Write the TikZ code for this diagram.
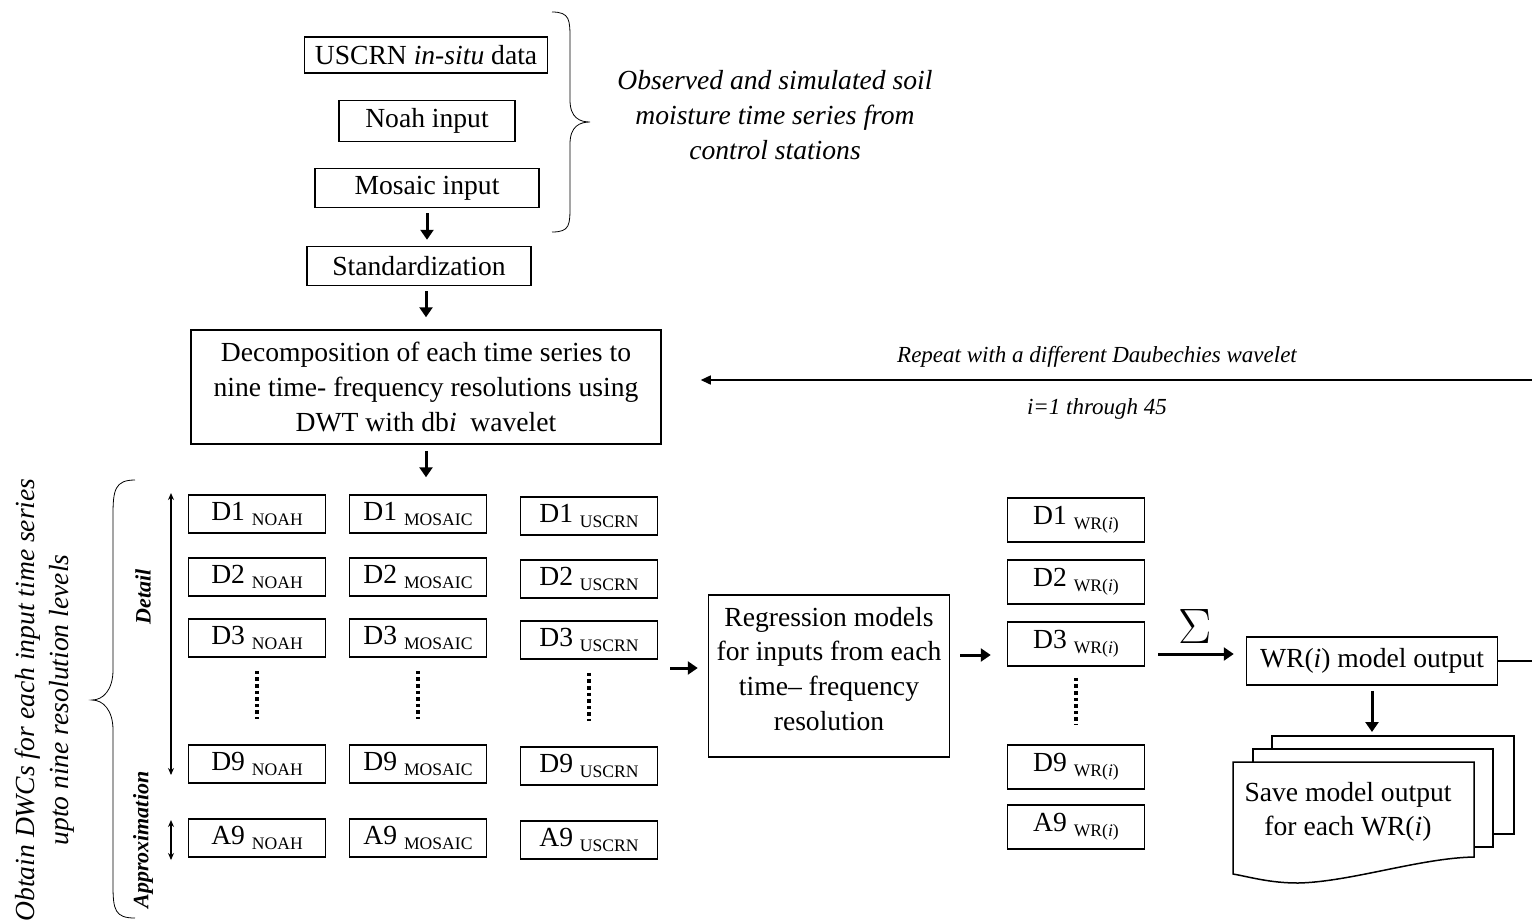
\documentclass[tikz,border=0pt]{standalone}
\usepackage{fontspec}
\setmainfont{Liberation Serif}
\usetikzlibrary{arrows.meta,positioning}

\def\pxl{0.5pt}
\newcommand{\wsub}[1]{ {\fontsize{8.8}{9}\selectfont\raisebox{-2.5pt}{#1}}}

\tikzset{
  box/.style={draw,line width=0.75pt,inner sep=0pt},
  coef/.style={box,minimum width={137*\pxl},minimum height={38*\pxl}},
  fat/.style={line width=1.5pt,-{Triangle[length=5pt,width=6.5pt]}},
  dotline/.style={line width=1.8pt,dash pattern=on 1.8pt off 1.5pt},
  dbl/.style={line width=0.6pt,{Stealth[length=3.5pt,width=3pt]}-{Stealth[length=3.5pt,width=3pt]}},
  note/.style={font=\fontsize{13.8}{17.5}\selectfont\itshape,align=center},
  small/.style={font=\fontsize{11.5}{13}\selectfont\itshape}
}

\begin{document}
\begin{tikzpicture}[x=\pxl,y=-\pxl,font=\fontsize{13.8}{17.3}\selectfont]
\useasboundingbox (0,0) rectangle (1532,923);

% inputs
\node[box,minimum width={243*\pxl},minimum height={36*\pxl}] (uscrn) at (426,55) {USCRN \textit{in-situ} data};
\node[box,minimum width={176*\pxl},minimum height={41*\pxl}] (noah) at (427,121) {Noah input};
\node[box,minimum width={224*\pxl},minimum height={39*\pxl}] (mosaic) at (427,188) {Mosaic input};
\node[box,minimum width={224*\pxl},minimum height={39*\pxl}] (std) at (419,266) {Standardization};
\node[box,minimum width={470*\pxl},minimum height={114*\pxl},align=center] (dec) at (426,387)
  {Decomposition of each time series to\\ nine time- frequency resolutions using\\ DWT with db\textit{i} \ wavelet};

\draw (552,12) .. controls (570,12) and (570,20) .. (570,40) -- (570,100)
  .. controls (570,118) and (580,122) .. (590,122) .. controls (580,122) and (570,126) .. (570,144)
  -- (570,205) .. controls (570,225) and (570,232) .. (552,232);
\node[note] (obs) at (775,115) {Observed and simulated soil\\ moisture time series from\\ control stations};

\draw[fat,shorten <=2.5pt,shorten >=3pt] (mosaic) -- (mosaic |- std.north);
\draw[fat,shorten <=2.5pt,shorten >=6pt] (std.south -| dec.north) -- (dec.north);

% wavelet coefficients
\foreach \lv/\y in {D1/514,D2/577,D3/638,D9/764,A9/838}{
  \node[coef] (\lv-noah) at (257,\y) {\lv\wsub{NOAH}};
  \node[coef] (\lv-mosaic) at (418,\y) {\lv\wsub{MOSAIC}};
  \node[coef] (\lv-uscrn) at (589,\y+2) {\lv\wsub{USCRN}};
}
\foreach \c in {noah,mosaic,uscrn}
  \draw[dotline,shorten <=6.5pt,shorten >=12.5pt] (D3-\c) -- (D9-\c);

\draw[fat,shorten <=3pt,shorten >=8.5pt] (dec.south) -- (dec.south |- D1-mosaic.north);

\draw[dbl] (171,493) -- (171,775);
\draw[dbl] (171,820) -- (171,860);
\node[rotate=90,font=\fontsize{11}{13}\selectfont\bfseries\itshape] (detail) at (143,597) {Detail};
\node[rotate=90,font=\fontsize{11}{13}\selectfont\bfseries\itshape] (approx) at (143,840) {Approximation};

\draw (135,480) .. controls (115,480) and (113,490) .. (113,515) -- (113,670)
  .. controls (113,690) and (103,700) .. (92,700) .. controls (103,700) and (113,710) .. (113,730)
  -- (113,885) .. controls (113,910) and (115,918) .. (135,918);
\node[note,rotate=90,font=\fontsize{13.8}{17}\selectfont\itshape] (dwc) at (45,700)
  {Obtain DWCs for each input time series\\ upto nine resolution levels};

% regression
\node[box,minimum width={241*\pxl},minimum height={162*\pxl},align=center] (reg) at (829,676)
  {\raisebox{3.5pt}{Regression models}\\[-3.5pt] for inputs from each\\ time-- frequency\\ resolution\vphantom{g}\\[-10pt]\mbox{}};
\draw[fat,shorten <=6pt,shorten >=5pt] ([yshift=4pt]reg.west -| D3-uscrn.east) -- ([yshift=4pt]reg.west);

\foreach \lv/\y in {D1/520,D2/582,D3/644,D9/767,A9/827}
  \node[coef,minimum height={44*\pxl}] (\lv-wr) at (1076,\y) {\lv\wsub{WR(\textit{i})}};
\draw[dotline,shorten <=5.5pt,shorten >=10pt] (D3-wr) -- (D9-wr);
\draw[fat,shorten <=5pt,shorten >=8pt] ([yshift=10.5pt]reg.east) -- ([yshift=10.5pt]reg.east -| D3-wr.west);

% model output
\node[box,minimum width={251*\pxl},minimum height={48*\pxl}] (out) at (1372,661) {WR(\textit{i}) model output};
\draw[fat,shorten <=6.5pt,shorten >=6pt] ([yshift=3.5pt]out.west -| D3-wr.east) -- ([yshift=3.5pt]out.west)
  node[midway,above=1pt,font=\fontsize{29}{29}\selectfont] (sum) {$\Sigma$};

% saved outputs
\draw[line width=0.75pt] (1272,749) -- (1272,736) -- (1514,736) -- (1514,834) -- (1493,834);
\draw[line width=0.75pt] (1253,762) -- (1253,749) -- (1493,749) -- (1493,847) -- (1474,847);
\draw[line width=0.75pt] (1233,762) -- (1474,762) -- (1474,857)
  .. controls (1420,858) and (1350,882) .. (1298,883) .. controls (1270,883) and (1250,877) .. (1233,874) -- cycle;
\node[align=center] (save) at (1348,812) {Save model output\\ for each WR(\textit{i})};
\coordinate (stack) at (1372,736);
\draw[fat,shorten <=2.5pt,shorten >=2pt] (out.south) -- (stack);

% repeat loop
\coordinate (loop) at (1545,0);
\draw[line width=0.75pt,-{Triangle[length=5pt,width=4.5pt]},shorten >=19.5pt]
  (out.east) -- (out.east -| loop) -- ([yshift=3.5pt]dec.east -| loop) -- ([yshift=3.5pt]dec.east);
\node[small] (rep) at (1097,357) {Repeat with a different Daubechies wavelet};
\node[small] (range) at (1097,409) {i=1 through 45};
\end{tikzpicture}
\end{document}
